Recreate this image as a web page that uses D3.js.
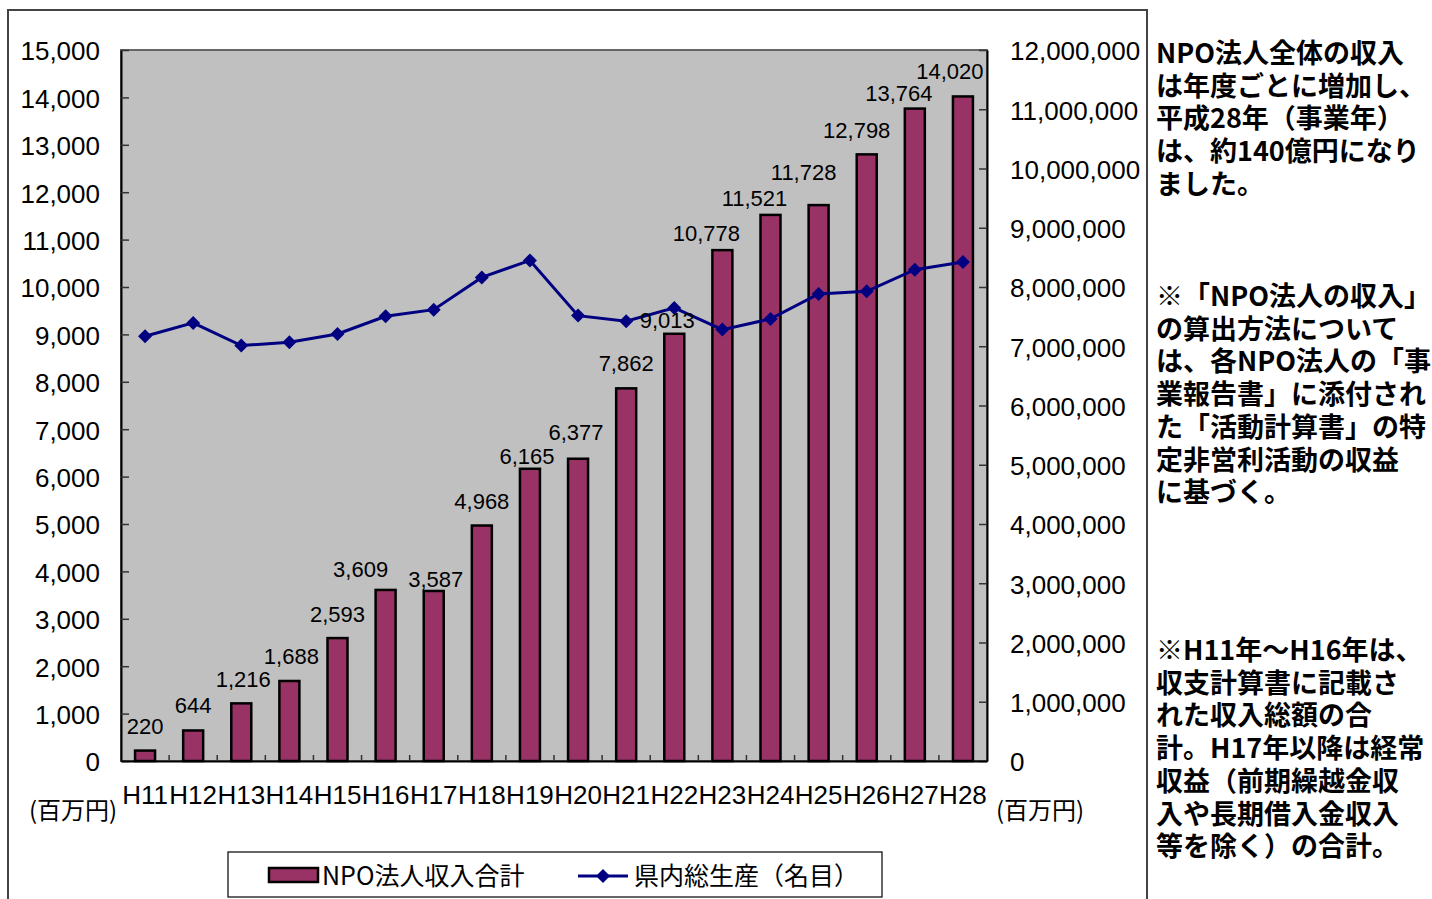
<!DOCTYPE html>
<html>
<head>
<meta charset="utf-8">
<script src="https://cdn.jsdelivr.net/npm/d3@7"></script>
<style>
  body { margin: 0; background: #fff; }
  svg { display: block; }
  .num { font-family: "Liberation Sans", Arial, sans-serif; fill: #000; }
  .jp { font-family: "Noto Sans CJK JP", sans-serif; fill: #000; }
</style>
</head>
<body>
<div id="chart"></div>
<script>
// categories (fiscal years)
var years = ["H11", "H12", "H13", "H14", "H15", "H16", "H17", "H18", "H19",
             "H20", "H21", "H22", "H23", "H24", "H25", "H26", "H27", "H28"];
// NPO income total (million yen) - bars, left axis
var npoIncome = [220, 644, 1216, 1688, 2593, 3609, 3587, 4968, 6165,
                 6377, 7862, 9013, 10778, 11521, 11728, 12798, 13764, 14020];
// prefectural GDP (nominal, million yen) - line, right axis
var gdp = [7168000, 7394000, 7011000, 7067000, 7208000, 7505000, 7618000, 8162000, 8449000,
           7517000, 7421000, 7647000, 7281000, 7461000, 7882000, 7927000, 8292000, 8422000];
var leftTicks = d3.range(0, 15001, 1000);
var rightTicks = d3.range(0, 12000001, 1000000);

var seriesNames = ["NPO法人収入合計", "県内総生産（名目）"];
var unitLabel = "(百万円)";
var notes = [
    ["NPO法人全体の収入", "は年度ごとに増加し、", "平成28年（事業年）", "は、約140億円になり", "ました。"],
    ["※「NPO法人の収入」", "の算出方法について", "は、各NPO法人の「事", "業報告書」に添付され", "た「活動計算書」の特", "定非営利活動の収益", "に基づく。"],
    ["※H11年～H16年は、", "収支計算書に記載さ", "れた収入総額の合", "計。H17年以降は経常", "収益（前期繰越金収", "入や長期借入金収入", "等を除く）の合計。"]
];

var W = 1432, H = 899;
var plot = { left: 121, right: 987, top: 50, bottom: 761 };
var barColor = "#993366", lineColor = "#000080";

var svg = d3.select("#chart").append("svg")
    .attr("width", W)
    .attr("height", H);

// outer chart frame
svg.append("rect")
    .attr("x", 8).attr("y", 10)
    .attr("width", 1139).attr("height", H + 10)
    .attr("fill", "none")
    .attr("stroke", "#444")
    .attr("stroke-width", 2);

var x = d3.scaleBand()
    .domain(years)
    .range([plot.left, plot.right])
    .padding(0);

var yLeft = d3.scaleLinear()
    .domain([0, 15000])
    .range([plot.bottom, plot.top]);

var yRight = d3.scaleLinear()
    .domain([0, 12000000])
    .range([plot.bottom, plot.top]);

// plot area
svg.append("rect")
    .attr("x", plot.left).attr("y", plot.top)
    .attr("width", plot.right - plot.left)
    .attr("height", plot.bottom - plot.top)
    .attr("fill", "#c0c0c0")
    .attr("stroke", "#666")
    .attr("stroke-width", 2);

var fmt = d3.format(",");

// left axis
var gl = svg.append("g")
    .attr("transform", "translate(" + plot.left + ",0)")
    .call(d3.axisLeft(yLeft).tickValues(leftTicks).tickFormat(fmt)
        .tickSizeInner(-8).tickSizeOuter(0).tickPadding(21));
gl.select(".domain").attr("stroke", "#000").attr("stroke-width", 2);
gl.selectAll(".tick line").attr("stroke", "#333").attr("stroke-width", 1.5);
gl.selectAll("text").attr("class", "num").attr("font-size", 26).attr("dy", "0.38em");

// right axis
var gr = svg.append("g")
    .attr("transform", "translate(" + plot.right + ",0)")
    .call(d3.axisRight(yRight).tickValues(rightTicks).tickFormat(fmt)
        .tickSizeInner(-8).tickSizeOuter(0).tickPadding(23));
gr.select(".domain").attr("stroke", "#000").attr("stroke-width", 2);
gr.selectAll(".tick line").attr("stroke", "#333").attr("stroke-width", 1.5);
gr.selectAll("text").attr("class", "num").attr("font-size", 26).attr("dy", "0.38em");

// bottom axis (category labels)
var gb = svg.append("g")
    .attr("transform", "translate(0," + plot.bottom + ")")
    .call(d3.axisBottom(x).tickSize(0).tickPadding(25));
gb.select(".domain").attr("stroke", "#000").attr("stroke-width", 2);
gb.selectAll("text").attr("class", "num").attr("font-size", 26);

// category boundary ticks
svg.append("g").selectAll("line")
    .data(years.slice(1))
    .enter().append("line")
    .attr("x1", function(d) { return x(d); })
    .attr("x2", function(d) { return x(d); })
    .attr("y1", plot.bottom)
    .attr("y2", plot.bottom - 6)
    .attr("stroke", "#333")
    .attr("stroke-width", 1.5);

// bars
var barW = 20;
svg.append("g").selectAll("rect")
    .data(npoIncome)
    .enter().append("rect")
    .attr("x", function(d, i) { return x(years[i]) + x.bandwidth() / 2 - barW / 2; })
    .attr("y", function(d) { return yLeft(d); })
    .attr("width", barW)
    .attr("height", function(d) { return plot.bottom - yLeft(d); })
    .attr("fill", barColor)
    .attr("stroke", "#000")
    .attr("stroke-width", 2.5);

// GDP line
var line = d3.line()
    .x(function(d, i) { return x(years[i]) + x.bandwidth() / 2; })
    .y(function(d) { return yRight(d); });

svg.append("path")
    .attr("d", line(gdp))
    .attr("fill", "none")
    .attr("stroke", lineColor)
    .attr("stroke-width", 3);

var dm = 7;
function diamond(cx, cy) {
    return "M" + cx + "," + (cy - dm) + "L" + (cx + dm) + "," + cy +
           "L" + cx + "," + (cy + dm) + "L" + (cx - dm) + "," + cy + "Z";
}
svg.append("g").selectAll("path")
    .data(gdp)
    .enter().append("path")
    .attr("d", function(d, i) { return diamond(x(years[i]) + x.bandwidth() / 2, yRight(d)); })
    .attr("fill", lineColor);

// bar value labels; hand-moved ones are nudged like in the original sheet
var labelGap = 17;
var labelNudge = {
    H13: [2, 1], H14: [2, 0], H15: [0, 1], H16: [-25, 4], H17: [2, 13],
    H19: [-3, 12], H20: [-2, -2], H22: [-7, 11], H23: [-16, 8], H24: [-16, 8],
    H25: [-15, -8], H26: [-10, 1], H27: [-16, 9], H28: [-13, 0]
};
svg.append("g").selectAll("text")
    .data(npoIncome)
    .enter().append("text")
    .attr("class", "num")
    .attr("font-size", 22)
    .attr("text-anchor", "middle")
    .attr("x", function(d, i) {
        var n = labelNudge[years[i]] || [0, 0];
        return x(years[i]) + x.bandwidth() / 2 + n[0];
    })
    .attr("y", function(d, i) {
        var n = labelNudge[years[i]] || [0, 0];
        return yLeft(d) - labelGap + n[1];
    })
    .text(function(d) { return fmt(d); });

// unit labels
svg.append("text").attr("class", "jp").attr("font-size", 24)
    .attr("x", 29).attr("y", 819).text(unitLabel);
svg.append("text").attr("class", "jp").attr("font-size", 24)
    .attr("x", 996).attr("y", 819).text(unitLabel);

// legend
var lg = svg.append("g");
lg.append("rect")
    .attr("x", 228).attr("y", 852)
    .attr("width", 654).attr("height", 45)
    .attr("fill", "#fff")
    .attr("stroke", "#000")
    .attr("stroke-width", 1.2);
lg.append("rect")
    .attr("x", 269).attr("y", 868)
    .attr("width", 49).attr("height", 14)
    .attr("fill", barColor)
    .attr("stroke", "#000")
    .attr("stroke-width", 2.5);
lg.append("text").attr("class", "jp").attr("font-size", 25)
    .attr("x", 322).attr("y", 885).text(seriesNames[0]);
lg.append("line")
    .attr("x1", 578).attr("x2", 628)
    .attr("y1", 876).attr("y2", 876)
    .attr("stroke", lineColor).attr("stroke-width", 3);
lg.append("path").attr("d", diamond(603, 876)).attr("fill", lineColor);
lg.append("text").attr("class", "jp").attr("font-size", 25)
    .attr("x", 634).attr("y", 885).text(seriesNames[1]);

// side notes
var noteTop = [63, 306, 660];
var lineH = 32.7;
notes.forEach(function(block, b) {
    svg.append("g").selectAll("text")
        .data(block)
        .enter().append("text")
        .attr("class", "jp")
        .attr("font-size", 27)
        .attr("font-weight", "bold")
        .attr("x", 1156)
        .attr("y", function(d, i) { return noteTop[b] + i * lineH; })
        .text(function(d) { return d; });
});
</script>
</body>
</html>
